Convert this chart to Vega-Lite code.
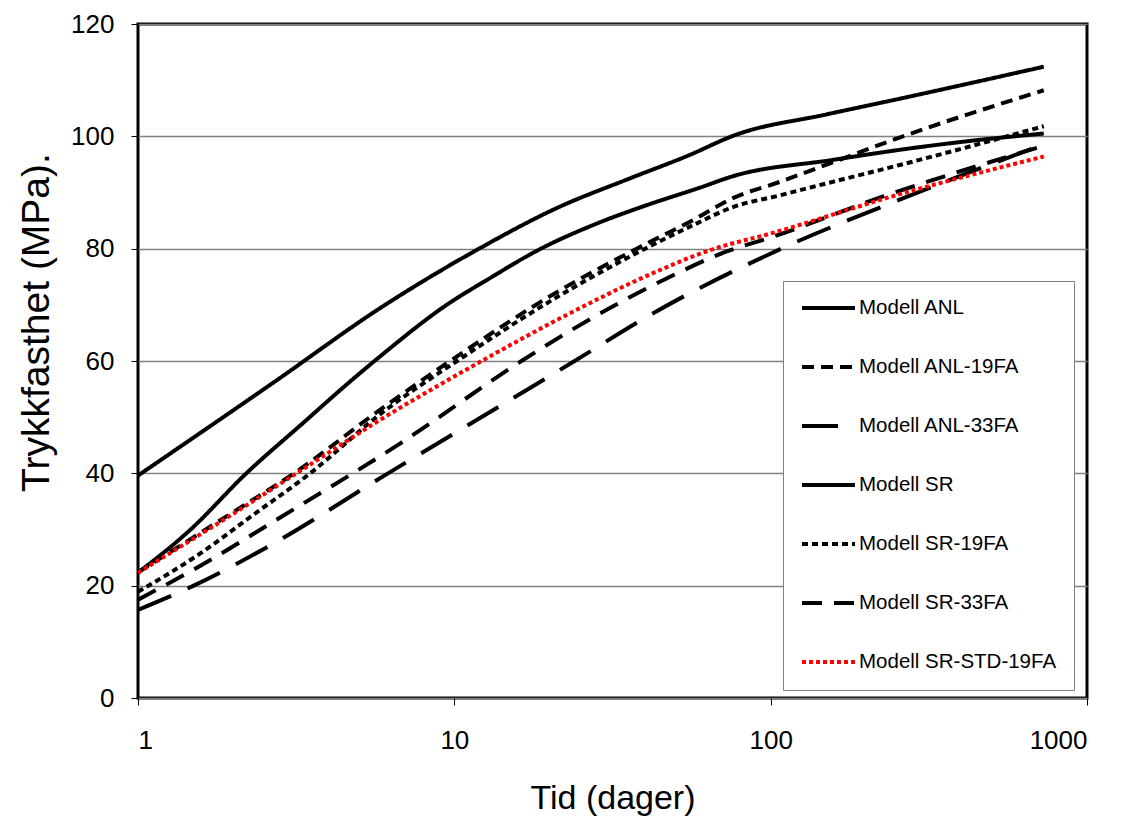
{
  "$schema": "https://vega.github.io/schema/vega-lite/v6.json",
  "width": 949,
  "height": 674,
  "autosize": "none",
  "padding": {"left": 138, "top": 24, "right": 34, "bottom": 121},
  "background": "white",
  "config": {
    "view": {"stroke": "black", "strokeWidth": 3},
    "font": "Liberation Sans",
    "axis": {"labelFont": "Liberation Sans", "titleFont": "Liberation Sans", "labelColor": "black", "titleColor": "black", "titleFontWeight": "normal", "tickColor": "black", "tickSize": 7, "domain": false},
    "legend": {"title": null, "orient": "none", "legendX": 645, "legendY": 257, "direction": "vertical", "fillColor": "white", "strokeColor": "#808080", "padding": 17, "labelFontSize": 20.5, "labelFont": "Liberation Sans", "labelColor": "black", "labelLimit": 400, "labelOffset": 2, "symbolType": "stroke", "symbolSize": 2809, "rowPadding": 38, "clipHeight": 20}
  },
  "data": {"values": [
    {"serie": "Modell ANL", "tid": 1, "trykk": 39.6},
    {"serie": "Modell ANL", "tid": 2.75, "trykk": 56.6},
    {"serie": "Modell ANL", "tid": 5.82, "trykk": 69.4},
    {"serie": "Modell ANL", "tid": 11.8, "trykk": 79.8},
    {"serie": "Modell ANL", "tid": 21.6, "trykk": 87.5},
    {"serie": "Modell ANL", "tid": 35.1, "trykk": 92.3},
    {"serie": "Modell ANL", "tid": 55, "trykk": 96.6},
    {"serie": "Modell ANL", "tid": 77, "trykk": 100.2},
    {"serie": "Modell ANL", "tid": 150, "trykk": 103.9},
    {"serie": "Modell ANL", "tid": 256, "trykk": 106.7},
    {"serie": "Modell ANL", "tid": 730, "trykk": 112.4},

    {"serie": "Modell ANL-19FA", "tid": 1, "trykk": 22.4},
    {"serie": "Modell ANL-19FA", "tid": 2, "trykk": 33.1},
    {"serie": "Modell ANL-19FA", "tid": 3.17, "trykk": 40.3},
    {"serie": "Modell ANL-19FA", "tid": 5.82, "trykk": 51.3},
    {"serie": "Modell ANL-19FA", "tid": 9.7, "trykk": 60},
    {"serie": "Modell ANL-19FA", "tid": 21.6, "trykk": 72.6},
    {"serie": "Modell ANL-19FA", "tid": 37.7, "trykk": 80},
    {"serie": "Modell ANL-19FA", "tid": 56.9, "trykk": 85.1},
    {"serie": "Modell ANL-19FA", "tid": 76, "trykk": 89},
    {"serie": "Modell ANL-19FA", "tid": 107, "trykk": 91.9},
    {"serie": "Modell ANL-19FA", "tid": 154, "trykk": 95.2},
    {"serie": "Modell ANL-19FA", "tid": 262, "trykk": 100},
    {"serie": "Modell ANL-19FA", "tid": 730, "trykk": 108.2},

    {"serie": "Modell ANL-33FA", "tid": 1, "trykk": 15.7},
    {"serie": "Modell ANL-33FA", "tid": 1.5, "trykk": 20},
    {"serie": "Modell ANL-33FA", "tid": 2.68, "trykk": 27.5},
    {"serie": "Modell ANL-33FA", "tid": 6.17, "trykk": 40},
    {"serie": "Modell ANL-33FA", "tid": 11, "trykk": 48.5},
    {"serie": "Modell ANL-33FA", "tid": 24, "trykk": 60},
    {"serie": "Modell ANL-33FA", "tid": 41, "trykk": 68},
    {"serie": "Modell ANL-33FA", "tid": 108, "trykk": 80},
    {"serie": "Modell ANL-33FA", "tid": 250, "trykk": 88.5},
    {"serie": "Modell ANL-33FA", "tid": 730, "trykk": 98.6},

    {"serie": "Modell SR", "tid": 1, "trykk": 22.3},
    {"serie": "Modell SR", "tid": 1.46, "trykk": 29.9},
    {"serie": "Modell SR", "tid": 2.2, "trykk": 40},
    {"serie": "Modell SR", "tid": 3.3, "trykk": 48.8},
    {"serie": "Modell SR", "tid": 4.74, "trykk": 56.6},
    {"serie": "Modell SR", "tid": 5.82, "trykk": 60.8},
    {"serie": "Modell SR", "tid": 9.46, "trykk": 70},
    {"serie": "Modell SR", "tid": 13, "trykk": 74.8},
    {"serie": "Modell SR", "tid": 18.2, "trykk": 79.6},
    {"serie": "Modell SR", "tid": 28, "trykk": 84.4},
    {"serie": "Modell SR", "tid": 39.4, "trykk": 87.5},
    {"serie": "Modell SR", "tid": 60, "trykk": 90.9},
    {"serie": "Modell SR", "tid": 76, "trykk": 92.9},
    {"serie": "Modell SR", "tid": 157, "trykk": 95.8},
    {"serie": "Modell SR", "tid": 256, "trykk": 97.6},
    {"serie": "Modell SR", "tid": 400, "trykk": 99},
    {"serie": "Modell SR", "tid": 730, "trykk": 100.5},

    {"serie": "Modell SR-19FA", "tid": 1, "trykk": 18.9},
    {"serie": "Modell SR-19FA", "tid": 1.57, "trykk": 25.7},
    {"serie": "Modell SR-19FA", "tid": 2.3, "trykk": 32.5},
    {"serie": "Modell SR-19FA", "tid": 3.5, "trykk": 40},
    {"serie": "Modell SR-19FA", "tid": 5.82, "trykk": 50.5},
    {"serie": "Modell SR-19FA", "tid": 10.2, "trykk": 60},
    {"serie": "Modell SR-19FA", "tid": 21.6, "trykk": 71.7},
    {"serie": "Modell SR-19FA", "tid": 40.1, "trykk": 80},
    {"serie": "Modell SR-19FA", "tid": 56.9, "trykk": 84.2},
    {"serie": "Modell SR-19FA", "tid": 76, "trykk": 87.4},
    {"serie": "Modell SR-19FA", "tid": 107, "trykk": 89.5},
    {"serie": "Modell SR-19FA", "tid": 157, "trykk": 91.9},
    {"serie": "Modell SR-19FA", "tid": 256, "trykk": 94.9},
    {"serie": "Modell SR-19FA", "tid": 730, "trykk": 101.8},

    {"serie": "Modell SR-33FA", "tid": 1, "trykk": 17.5},
    {"serie": "Modell SR-33FA", "tid": 1.57, "trykk": 23.5},
    {"serie": "Modell SR-33FA", "tid": 2.68, "trykk": 31.4},
    {"serie": "Modell SR-33FA", "tid": 6.73, "trykk": 45.3},
    {"serie": "Modell SR-33FA", "tid": 16.3, "trykk": 60},
    {"serie": "Modell SR-33FA", "tid": 21.6, "trykk": 64.3},
    {"serie": "Modell SR-33FA", "tid": 46.9, "trykk": 74.7},
    {"serie": "Modell SR-33FA", "tid": 72.6, "trykk": 79.5},
    {"serie": "Modell SR-33FA", "tid": 100, "trykk": 82},
    {"serie": "Modell SR-33FA", "tid": 227, "trykk": 89.3},
    {"serie": "Modell SR-33FA", "tid": 730, "trykk": 98.3},

    {"serie": "Modell SR-STD-19FA", "tid": 1, "trykk": 22.3},
    {"serie": "Modell SR-STD-19FA", "tid": 2, "trykk": 32.8},
    {"serie": "Modell SR-STD-19FA", "tid": 3.17, "trykk": 40},
    {"serie": "Modell SR-STD-19FA", "tid": 5.82, "trykk": 49.5},
    {"serie": "Modell SR-STD-19FA", "tid": 12.2, "trykk": 60},
    {"serie": "Modell SR-STD-19FA", "tid": 21.6, "trykk": 67.6},
    {"serie": "Modell SR-STD-19FA", "tid": 44.7, "trykk": 76.2},
    {"serie": "Modell SR-STD-19FA", "tid": 64, "trykk": 79.7},
    {"serie": "Modell SR-STD-19FA", "tid": 100, "trykk": 82.7},
    {"serie": "Modell SR-STD-19FA", "tid": 256, "trykk": 89.7},
    {"serie": "Modell SR-STD-19FA", "tid": 730, "trykk": 96.4}
  ]},
  "mark": {"type": "line", "interpolate": "monotone", "clip": true},
  "encoding": {
    "x": {
      "field": "tid", "type": "quantitative",
      "scale": {"type": "log", "domain": [1, 1000], "nice": false},
      "axis": {"values": [1, 10, 100, 1000], "format": "d", "grid": false, "labelFontSize": 26, "labelPadding": 22, "title": "Tid (dager)", "titleFontSize": 34, "titlePadding": 28}
    },
    "y": {
      "field": "trykk", "type": "quantitative",
      "scale": {"domain": [0, 120], "nice": false},
      "axis": {"values": [0, 20, 40, 60, 80, 100, 120], "grid": true, "gridColor": "#808080", "gridWidth": 1.3, "labelFontSize": 26, "labelPadding": 17, "title": "Trykkfasthet (MPa).", "titleFontSize": 39, "titlePadding": 14, "titleY": 298}
    },
    "color": {
      "field": "serie", "type": "nominal",
      "scale": {"domain": ["Modell ANL", "Modell ANL-19FA", "Modell ANL-33FA", "Modell SR", "Modell SR-19FA", "Modell SR-33FA", "Modell SR-STD-19FA"],
                "range": ["black", "black", "black", "black", "black", "black", "#ff0000"]},
      "legend": {}
    },
    "strokeDash": {
      "field": "serie", "type": "nominal",
      "scale": {"domain": ["Modell ANL", "Modell ANL-19FA", "Modell ANL-33FA", "Modell SR", "Modell SR-19FA", "Modell SR-33FA", "Modell SR-STD-19FA"],
                "range": [[1, 0], [12, 7], [36, 18], [1, 0], [6, 4], [20, 12], [4, 3]]},
      "legend": {}
    },
    "strokeWidth": {
      "field": "serie", "type": "nominal",
      "scale": {"domain": ["Modell ANL", "Modell ANL-19FA", "Modell ANL-33FA", "Modell SR", "Modell SR-19FA", "Modell SR-33FA", "Modell SR-STD-19FA"],
                "range": [4, 4, 4, 1.8, 1.8, 1.8, 1.3]},
      "legend": {}
    }
  }
}
